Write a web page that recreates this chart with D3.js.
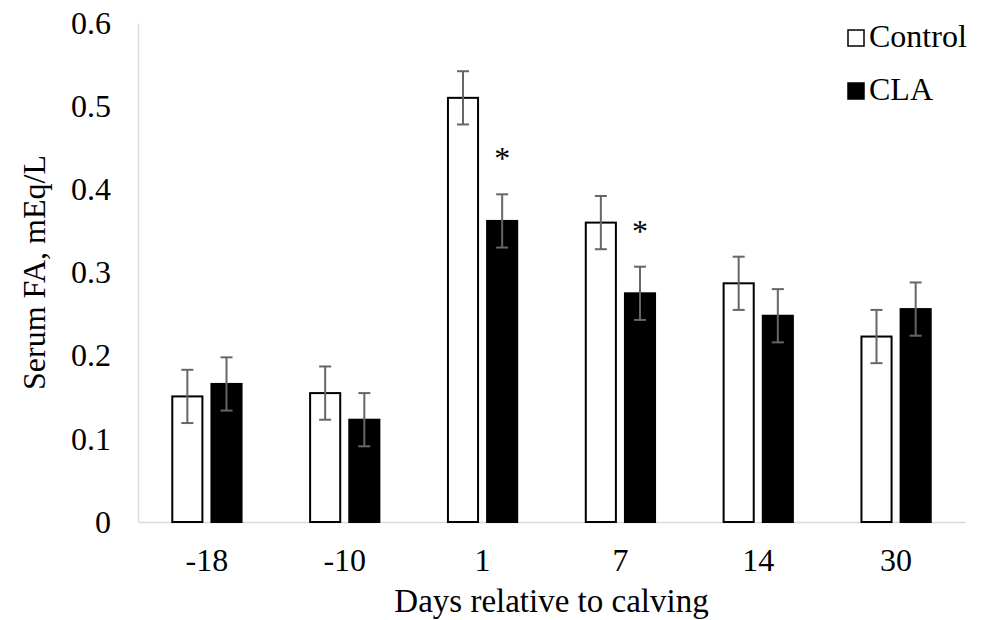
<!DOCTYPE html>
<html>
<head>
<meta charset="utf-8">
<script src="https://cdn.jsdelivr.net/npm/d3@7"></script>
<style>
  body { margin: 0; background: #fff; }
  svg text { font-family: "Liberation Serif", "DejaVu Serif", "Times New Roman", serif; fill: #000; }
</style>
</head>
<body>
<script>
// data
var days       = ['-18', '-10', '1', '7', '14', '30'],
    series     = ['Control', 'CLA'],
    controlVal = [0.151, 0.155, 0.510, 0.360, 0.287, 0.223],
    claVal     = [0.166, 0.123, 0.362, 0.275, 0.248, 0.256],
    controlSe  = [0.032, 0.032, 0.032, 0.032, 0.032, 0.032],
    claSe      = [0.032, 0.032, 0.032, 0.032, 0.032, 0.032],
    claStar    = [false, false, true, true, false, false],
    yTicks     = [0, 0.1, 0.2, 0.3, 0.4, 0.5, 0.6];

// init
var W = 981, H = 620,
    margin = { top: 23, right: 16, bottom: 98, left: 138 },
    width  = W - margin.left - margin.right,
    height = H - margin.top - margin.bottom;

// scales
var x0 = d3.scaleBand().domain(days).range([0, width]).paddingInner(0).paddingOuter(0);
var x1 = d3.scaleBand().domain(series).range([0, x0.bandwidth()])
    .paddingInner(0.18).paddingOuter(0.85);
var y  = d3.scaleLinear().domain([0, 0.6]).range([height, 0]);

// rows built from arrays
var rows = days.map(function(d, i) {
    return [
        { day: d, key: 'Control', v: controlVal[i], se: controlSe[i], star: false },
        { day: d, key: 'CLA',     v: claVal[i],     se: claSe[i],     star: claStar[i] }
    ];
});

var svg = d3.select('body').append('svg')
    .attr('width', W)
    .attr('height', H);

var g = svg.append('g')
    .attr('transform', 'translate(' + margin.left + ',' + margin.top + ')');

// y axis (labels only, light line)
var yAxis = g.append('g')
    .call(d3.axisLeft(y).tickValues(yTicks).tickSize(0).tickPadding(27)
        .tickFormat(function(d) { return d === 0 ? '0' : d.toFixed(1); }));
yAxis.attr('font-size', 32).attr('font-family', null);
yAxis.select('.domain').attr('stroke', '#d9d9d9').attr('stroke-width', 1.5);

// x axis
var xAxis = g.append('g')
    .attr('transform', 'translate(0,' + height + ')')
    .call(d3.axisBottom(x0).tickSize(0).tickPadding(26));
xAxis.attr('font-size', 32).attr('font-family', null);
xAxis.select('.domain').attr('stroke', '#d9d9d9').attr('stroke-width', 1.5);

// bars
var groups = g.selectAll('.grp').data(rows).enter()
    .append('g')
    .attr('class', 'grp')
    .attr('transform', function(d) { return 'translate(' + x0(d[0].day) + ',0)'; });

groups.selectAll('rect').data(function(d) { return d; }).enter()
    .append('rect')
    .attr('x', function(d) { return x1(d.key) + 1; })
    .attr('width', x1.bandwidth() - 2)
    .attr('y', function(d) { return y(d.v); })
    .attr('height', function(d) { return height - y(d.v); })
    .attr('fill', function(d) { return d.key === 'CLA' ? '#000' : '#fff'; })
    .attr('stroke', '#000')
    .attr('stroke-width', 2);

// error bars
var eb = groups.selectAll('.eb').data(function(d) { return d; }).enter()
    .append('g')
    .attr('class', 'eb')
    .attr('stroke', '#666')
    .attr('stroke-width', 2);
function cx(d) { return x1(d.key) + x1.bandwidth() / 2; }
eb.append('line')
    .attr('x1', cx).attr('x2', cx)
    .attr('y1', function(d) { return y(d.v + d.se); })
    .attr('y2', function(d) { return y(d.v - d.se); });
eb.append('line')
    .attr('x1', function(d) { return cx(d) - 6; }).attr('x2', function(d) { return cx(d) + 6; })
    .attr('y1', function(d) { return y(d.v + d.se); })
    .attr('y2', function(d) { return y(d.v + d.se); });
eb.append('line')
    .attr('x1', function(d) { return cx(d) - 6; }).attr('x2', function(d) { return cx(d) + 6; })
    .attr('y1', function(d) { return y(d.v - d.se); })
    .attr('y2', function(d) { return y(d.v - d.se); });

// significance stars
groups.selectAll('.star').data(function(d) { return d.filter(function(r) { return r.star; }); }).enter()
    .append('text')
    .attr('class', 'star')
    .attr('x', cx)
    .attr('y', function(d) { return y(d.v + d.se) - 25; })
    .attr('text-anchor', 'middle')
    .attr('font-size', 32)
    .text('*');

// axis titles
svg.append('text')
    .attr('x', margin.left + width / 2)
    .attr('y', 612)
    .attr('text-anchor', 'middle')
    .attr('font-size', 33)
    .text('Days relative to calving');

svg.append('text')
    .attr('transform', 'translate(45,' + (margin.top + height / 2) + ') rotate(-90)')
    .attr('text-anchor', 'middle')
    .attr('font-size', 32)
    .text('Serum FA, mEq/L');

// legend
var legend = svg.append('g').attr('transform', 'translate(848,0)');
series.forEach(function(s, i) {
    var ly = 47 + i * 53;
    legend.append('rect')
        .attr('x', 0).attr('y', ly - 17)
        .attr('width', 16).attr('height', 16)
        .attr('fill', s === 'CLA' ? '#000' : '#fff')
        .attr('stroke', '#000')
        .attr('stroke-width', 1.5);
    legend.append('text')
        .attr('x', 21).attr('y', ly)
        .attr('font-size', 32)
        .text(s);
});
</script>
</body>
</html>
